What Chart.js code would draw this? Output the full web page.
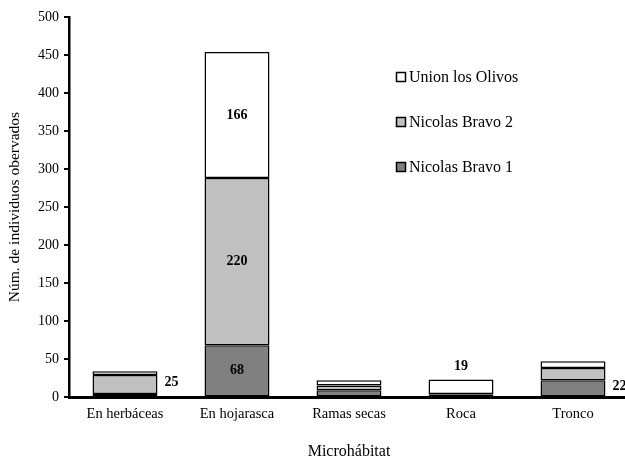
<!DOCTYPE html>
<html>
<head>
<meta charset="utf-8">
<script src="https://cdn.jsdelivr.net/npm/chart.js@4/dist/chart.umd.min.js"></script>
<style>
html,body{margin:0;padding:0;background:#fff;overflow:hidden;width:625px;height:461px;}
#wrap{width:640px;height:461px;}
</style>
</head>
<body>
<div id="wrap"><canvas id="c" width="640" height="461"></canvas></div>
<script>
const categories = ['En herbáceas', 'En hojarasca', 'Ramas secas', 'Roca', 'Tronco'];
const seriesNames = ['Nicolas Bravo 1', 'Nicolas Bravo 2', 'Union los Olivos'];
const nicolasBravo1 = [4, 68, 9, 3, 22];
const nicolasBravo2 = [25, 220, 6, 1, 16];
const unionLosOlivos = [5, 166, 7, 19, 9];
const yTicks = [0, 50, 100, 150, 200, 250, 300, 350, 400, 450, 500];
// which segments carry a value label: [category index, series index]
const labelledSegments = [[0, 1], [1, 0], [1, 1], [1, 2], [3, 2], [4, 0]];

const SERIF = '"Liberation Serif", "Times New Roman", serif';
const colors = ['#808080', '#c0c0c0', '#ffffff'];
const values = [nicolasBravo1, nicolasBravo2, unionLosOlivos];

const labelPlugin = {
  id: 'segLabels',
  afterDatasetsDraw(chart) {
    const ctx = chart.ctx;
    ctx.save();
    ctx.font = 'bold 14px ' + SERIF;
    ctx.fillStyle = '#000';
    ctx.textBaseline = 'middle';
    labelledSegments.forEach(([ci, si]) => {
      const el = chart.getDatasetMeta(si).data[ci];
      const v = chart.data.datasets[si].data[ci];
      const top = el.y, bottom = el.base;
      const half = el.width / 2;
      if (ci === 1) {
        ctx.textAlign = 'center';
        ctx.fillText(String(v), el.x, (top + bottom) / 2);
      } else if (ci === 3) {
        ctx.textAlign = 'center';
        ctx.fillText(String(v), el.x, top - 13);
      } else {
        ctx.textAlign = 'left';
        ctx.fillText(String(v), el.x + half + 7, (top + bottom) / 2 - 2);
      }
    });
    ctx.restore();
  }
};

const legendPlugin = {
  id: 'innerLegend',
  afterDraw(chart) {
    const ctx = chart.ctx;
    ctx.save();
    ctx.font = '16px ' + SERIF;
    ctx.textBaseline = 'middle';
    ctx.textAlign = 'left';
    const ds = chart.data.datasets;
    const order = ds.map((d, i) => i).reverse();
    order.forEach((i, k) => {
      const y = 77 + k * 45;
      ctx.fillStyle = ds[i].backgroundColor;
      ctx.fillRect(396.5, y - 4.5, 9, 9);
      ctx.lineWidth = 1.5;
      ctx.strokeStyle = '#000';
      ctx.strokeRect(396.5, y - 4.5, 9, 9);
      ctx.fillStyle = '#000';
      ctx.fillText(ds[i].label, 409, y + 1);
    });
    ctx.restore();
  }
};

new Chart(document.getElementById('c'), {
  type: 'bar',
  data: {
    labels: categories,
    datasets: seriesNames.map((name, i) => ({
      label: name,
      data: values[i],
      backgroundColor: colors[i],
      borderColor: '#000',
      borderWidth: 1.5,
      borderSkipped: false,
      categoryPercentage: 1,
      barPercentage: 0.58
    }))
  },
  options: {
    responsive: false,
    animation: false,
    layout: { padding: { top: 17, right: 11, left: 0, bottom: 0 } },
    plugins: { legend: { display: false }, tooltip: { enabled: false } },
    scales: {
      x: {
        stacked: true,
        offset: true,
        grid: { display: false, drawTicks: false, tickLength: 0 },
        border: { display: true, color: '#000', width: 3 },
        ticks: { color: '#000', font: { family: SERIF, size: 14.5 }, padding: 8, maxRotation: 0 },
        title: { display: true, text: 'Microhábitat', color: '#000', font: { family: SERIF, size: 16 }, padding: { top: 0, bottom: 0 } },
        afterFit(s) { s.height = 64; }
      },
      y: {
        stacked: true,
        min: 0,
        max: 500,
        afterBuildTicks(s) { s.ticks = yTicks.map(v => ({ value: v })); },
        grid: { display: true, drawOnChartArea: false, drawTicks: true, tickLength: 5, color: '#000', lineWidth: 2 },
        border: { display: true, color: '#000', width: 2.5 },
        ticks: { color: '#000', font: { family: SERIF, size: 14 }, padding: 5 },
        title: { display: true, text: 'Núm. de individuos obervados', color: '#000', font: { family: SERIF, size: 15.5 }, padding: { top: 6, bottom: 0 } },
        afterFit(s) { s.width = 69; }
      }
    }
  },
  plugins: [labelPlugin, legendPlugin]
});
</script>
</body>
</html>
